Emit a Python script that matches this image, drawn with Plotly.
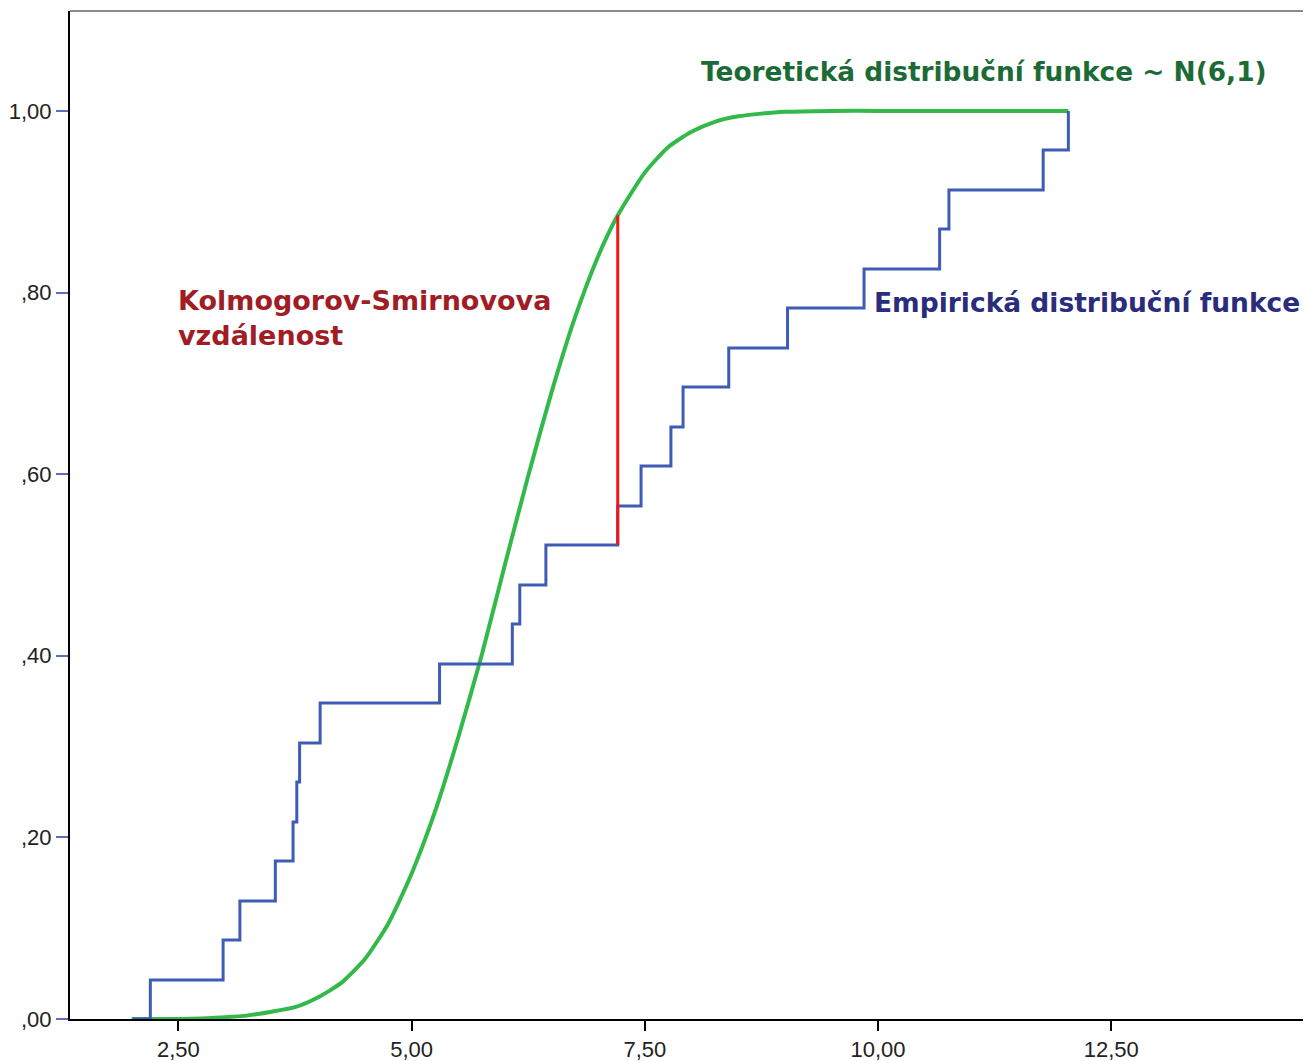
import plotly.graph_objects as go

# Empirical distribution function (n = 23), step points
emp_x = [2.01, 2.20, 2.98, 3.16, 3.54, 3.73, 3.77, 3.80, 4.02, 5.30, 6.08, 6.16,
         6.44, 7.21, 7.46, 7.78, 7.91, 8.40, 9.03, 9.85, 10.66, 10.76, 11.77, 12.04]
emp_y = [0.000, 0.043, 0.087, 0.130, 0.174, 0.217, 0.261, 0.304, 0.348, 0.391, 0.435, 0.478,
         0.522, 0.565, 0.609, 0.652, 0.696, 0.739, 0.783, 0.826, 0.870, 0.913, 0.957, 1.000]

# Theoretical distribution function N(6,1)
theo_x = [2.00, 2.50, 3.00, 3.25, 3.50, 3.75, 4.00, 4.25, 4.50, 4.75, 5.00, 5.25, 5.50,
          5.75, 6.00, 6.25, 6.50, 6.75, 7.00, 7.21, 7.50, 7.75, 8.00, 8.25, 8.50, 8.75,
          9.00, 9.50, 10.00, 12.04]
theo_y = [0.000, 0.000, 0.002, 0.004, 0.008, 0.013, 0.024, 0.040, 0.066, 0.105, 0.160,
          0.228, 0.310, 0.400, 0.500, 0.598, 0.690, 0.772, 0.840, 0.885, 0.932, 0.960,
          0.977, 0.988, 0.994, 0.997, 0.999, 1.000, 1.000, 1.000]

# Kolmogorov-Smirnov distance
ks_x = [7.21, 7.21]
ks_y = [0.522, 0.885]

x_ticks = [2.5, 5.0, 7.5, 10.0, 12.5]
x_labels = ["2,50", "5,00", "7,50", "10,00", "12,50"]
y_ticks = [0.0, 0.2, 0.4, 0.6, 0.8, 1.0]
y_labels = [",00", ",20", ",40", ",60", ",80", "1,00"]

fig = go.Figure()
fig.add_trace(go.Scatter(x=theo_x, y=theo_y, mode="lines",
                         line=dict(color="#33b94a", width=4, shape="spline", smoothing=0.6),
                         hoverinfo="skip"))
fig.add_trace(go.Scatter(x=emp_x, y=emp_y, mode="lines", line=dict(color="#3f5cb4", width=3, shape="hv"),
                         hoverinfo="skip"))
fig.add_trace(go.Scatter(x=ks_x, y=ks_y, mode="lines", line=dict(color="#f01818", width=3),
                         hoverinfo="skip"))

fig.add_annotation(x=8.08, y=1.043, text="Teoretická distribuční funkce ~ N(6,1)", showarrow=False,
                   xanchor="left", yanchor="middle",
                   font=dict(family="DejaVu Sans", size=26.4, weight="bold", color="#1c6b37"))
fig.add_annotation(x=2.475, y=0.772, text="Kolmogorov-Smirnovova<br>vzdálenost", showarrow=False,
                   xanchor="left", yanchor="middle", align="left",
                   font=dict(family="DejaVu Sans", size=27, weight="bold", color="#a11d25"))
fig.add_annotation(x=9.93, y=0.789, text="Empirická distribuční funkce", showarrow=False,
                   xanchor="left", yanchor="middle",
                   font=dict(family="DejaVu Sans", size=26.5, weight="bold", color="#2a2d7c"))

# top / right frame in grey
fig.add_shape(type="line", xref="paper", yref="paper", x0=0, x1=1, y0=1, y1=1, line=dict(color="#8a8a8a", width=2))
fig.add_shape(type="line", xref="paper", yref="paper", x0=1, x1=1, y0=0, y1=1, line=dict(color="#8a8a8a", width=2))

fig.update_layout(
    width=1303, height=1053,
    margin=dict(l=62, r=1, t=3, b=42, autoexpand=False),
    plot_bgcolor="white", paper_bgcolor="white",
    showlegend=False,
    font=dict(family="Liberation Sans", size=22, color="#222222"),
    xaxis=dict(range=[1.339, 14.63], showgrid=False, zeroline=False, showline=True, linecolor="black",
               linewidth=2, ticks="outside", ticklen=10, tickwidth=2, tickcolor="black",
               tickvals=x_ticks, ticktext=x_labels, tickfont=dict(size=22, color="#222222")),
    yaxis=dict(range=[0, 1.110], showgrid=False, zeroline=False, showline=True, linecolor="black",
               linewidth=2, ticks="outside", ticklen=12, tickwidth=2, tickcolor="#5a6fc0",
               tickvals=y_ticks, ticktext=y_labels, tickfont=dict(size=22, color="#222222")),
)

fig.write_html("out.html")
